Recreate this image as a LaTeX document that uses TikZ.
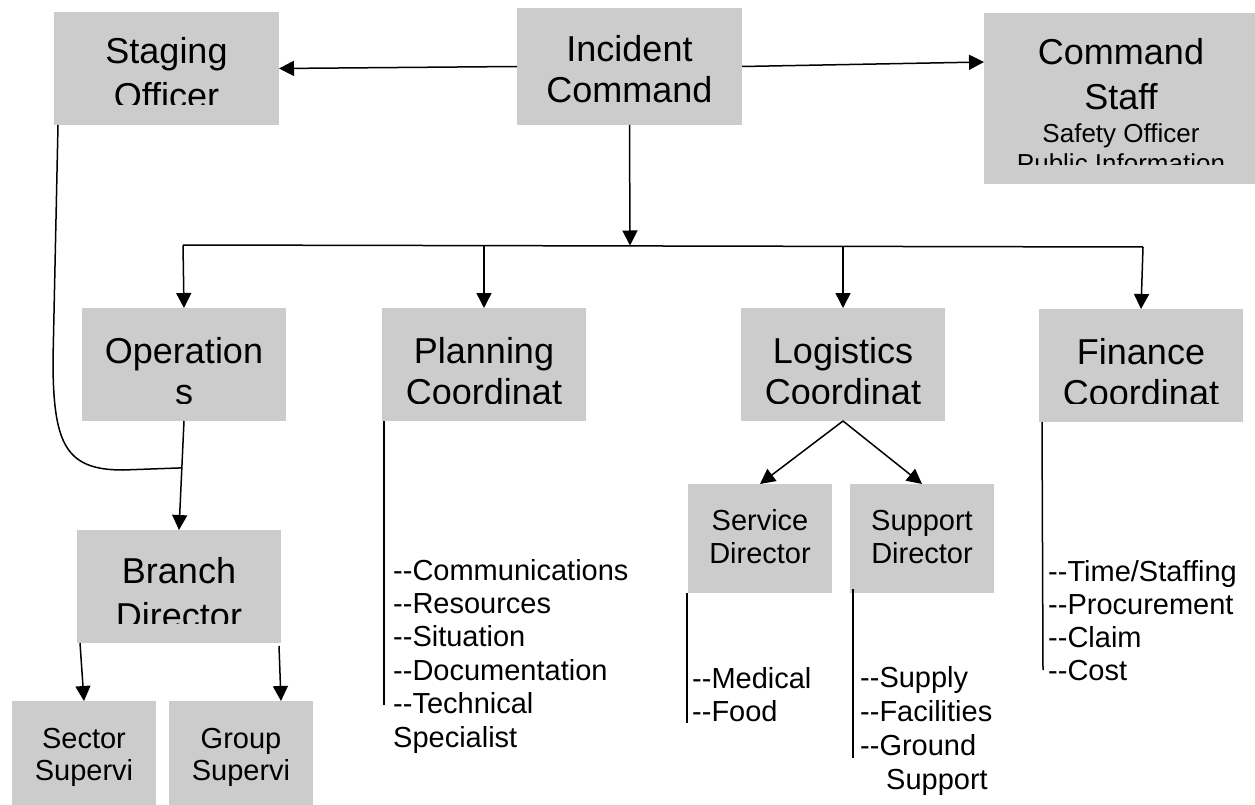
\documentclass[tikz,border=0pt]{standalone}
\usepackage{fontspec}
\setmainfont{Liberation Sans}
\usetikzlibrary{arrows.meta,calc}
\definecolor{boxgray}{HTML}{CCCCCC}
\begin{document}
\begin{tikzpicture}[x=1pt,y=-1pt,
  box/.style={fill=boxgray,draw=none,inner sep=0pt,outer sep=0pt},
  big/.style={font=\fontsize{36}{41}\selectfont,inner sep=0pt,anchor=base},
  mid/.style={font=\fontsize{29}{33}\selectfont,inner sep=0pt,anchor=base},
  sml/.style={font=\fontsize{26}{30}\selectfont,inner sep=0pt,anchor=base},
  lst/.style={font=\fontsize{29}{33}\selectfont,inner sep=0pt,anchor=base west},
  conn/.style={line width=1.5pt},
  arr/.style={conn,-{Triangle[length=15pt,width=15pt]}},
]
\useasboundingbox (0,0) rectangle (1255,805);
\fill[white] (0,0) rectangle (1255,805);

% ---------- boxes ----------
\node[box,minimum width=225pt,minimum height=113pt] (stag) at (166.5,68.5) {};
\node[box,minimum width=225pt,minimum height=117pt] (ic) at (629.5,66.5) {};
\node[box,minimum width=271pt,minimum height=171pt] (cs) at (1119.5,98.5) {};
\node[box,minimum width=204pt,minimum height=113pt] (ops) at (184,364.5) {};
\node[box,minimum width=204pt,minimum height=113pt] (plan) at (484,364.5) {};
\node[box,minimum width=204pt,minimum height=113pt] (log) at (843,364.5) {};
\node[box,minimum width=204pt,minimum height=113pt] (fin) at (1141,365.5) {};
\node[box,minimum width=204pt,minimum height=113pt] (branch) at (179,586.5) {};
\node[box,minimum width=144pt,minimum height=104pt] (sector) at (84,753) {};
\node[box,minimum width=144pt,minimum height=104pt] (group) at (241,753) {};
\node[box,minimum width=144pt,minimum height=109pt] (service) at (760,538.5) {};
\node[box,minimum width=144pt,minimum height=109pt] (support) at (922,538.5) {};

% ---------- box texts (clipped like the original) ----------
\begin{scope}
  \clip (stag.north west) rectangle (279,105);
  \node[big] (tStag1) at (166.5,64) {Staging};
  \node[big] (tStag2) at (166.5,109) {Officer};
\end{scope}
\node[big] (tIc1) at (629.5,62) {Incident};
\node[big] (tIc2) at (629.5,103) {Command};
\begin{scope}
  \clip (cs.north west) rectangle (1255,165);
  \node[big] (tCs1) at (1121,65) {Command};
  \node[big] (tCs2) at (1121,110) {Staff};
  \node[sml] (tCs3) at (1121,143) {Safety Officer};
  \node[sml] (tCs4) at (1121,173) {Public Information};
\end{scope}
\begin{scope}
  \clip (0,308) rectangle (1255,403);
  \node[big] (tOps1) at (184,363) {Operation};
  \node[big] (tOps2) at (184,404) {s};
  \node[big] (tPlan1) at (484,363) {Planning};
  \node[big] (tPlan2) at (484,404) {Coordinat};
  \node[big] (tLog1) at (843,363) {Logistics};
  \node[big] (tLog2) at (843,404) {Coordinat};
  \node[big] (tFin1) at (1141,364) {Finance};
  \node[big] (tFin2) at (1141,405) {Coordinat};
\end{scope}
\begin{scope}
  \clip (branch.north west) rectangle (281,623);
  \node[big] (tBr1) at (179,583) {Branch};
  \node[big] (tBr2) at (179,628) {Director};
\end{scope}
\node[mid] (tSec1) at (84,748) {Sector};
\node[mid] (tSec2) at (84,780) {Supervi};
\node[mid] (tGrp1) at (241,748) {Group};
\node[mid] (tGrp2) at (241,780) {Supervi};
\node[mid] (tSrv1) at (760,530) {Service};
\node[mid] (tSrv2) at (760,563) {Director};
\node[mid] (tSup1) at (922,530) {Support};
\node[mid] (tSup2) at (922,563) {Director};

% ---------- lists ----------
\node[lst] (pl1) at (393,580) {-{}-Communications};
\node[lst] (pl2) at (393,613.4) {-{}-Resources};
\node[lst] (pl3) at (393,646.8) {-{}-Situation};
\node[lst] (pl4) at (393,680.2) {-{}-Documentation};
\node[lst] (pl5) at (393,713.6) {-{}-Technical};
\node[lst] (pl6) at (393,747) {Specialist};

\node[lst] (sv1) at (692,688) {-{}-Medical};
\node[lst] (sv2) at (692,721) {-{}-Food};

\node[lst] (sp1) at (860,687) {-{}-Supply};
\node[lst] (sp2) at (860,721) {-{}-Facilities};
\node[lst] (sp3) at (860,755) {-{}-Ground};
\node[lst] (sp4) at (886,789) {Support};

\node[lst] (fn1) at (1048,581) {-{}-Time/Staffing};
\node[lst] (fn2) at (1048,614) {-{}-Procurement};
\node[lst] (fn3) at (1048,647) {-{}-Claim};
\node[lst] (fn4) at (1048,680) {-{}-Cost};

% ---------- coordinates ----------
\coordinate (csIn) at (984,62);
\coordinate (busC) at (630,245.5);
\coordinate (busL) at (183,245);
\coordinate (busR) at (1143,247);
\coordinate (j) at ($(ops.south)!0.43!(branch.north)$);
\coordinate (s0) at (58,125);
\coordinate (s1) at (53,360);
\coordinate (s2) at (123,470);
\coordinate (b1) at (80,643);
\coordinate (b2) at (279,646);
\coordinate (gIn) at (281,701);
\coordinate (plTop) at (384,421);
\coordinate (plEnd) at (384,705);
\coordinate (svTop) at (687,593);
\coordinate (svEnd) at (687,723);
\coordinate (spTop) at (853,589);
\coordinate (spEnd) at (853,758);
\coordinate (fnTop) at (1042,422);
\coordinate (fnEnd) at (1043,670);

% ---------- connectors ----------
\draw[arr] (ic.west) -- (stag.east);
\draw[arr] (ic.east) -- (csIn);
\draw[arr] (ic.south) -- (busC);
\draw[conn] (busL) -- (busR);
\draw[arr] (busL) -- (ops.north);
\draw[arr] (plan.north |- busL) -- (plan.north);
\draw[arr] (log.north |- busR) -- (log.north);
\draw[arr] (busR) -- (fin.north);
\draw[arr] (ops.south) -- (branch.north);
\draw[conn] (s0) -- (s1) .. controls (53,445) and (66,470) .. (s2) -- (j);
\draw[arr] (b1) -- (sector.north);
\draw[arr] (b2) -- (gIn);
\draw[arr] (log.south) -- (service.north);
\draw[arr] (log.south) -- (support.north);
\draw[conn] (plTop) -- (plEnd);
\draw[conn] (svTop) -- (svEnd);
\draw[conn] (spTop) -- (spEnd);
\draw[conn] (fnTop) -- (fnEnd);
\end{tikzpicture}
\end{document}
